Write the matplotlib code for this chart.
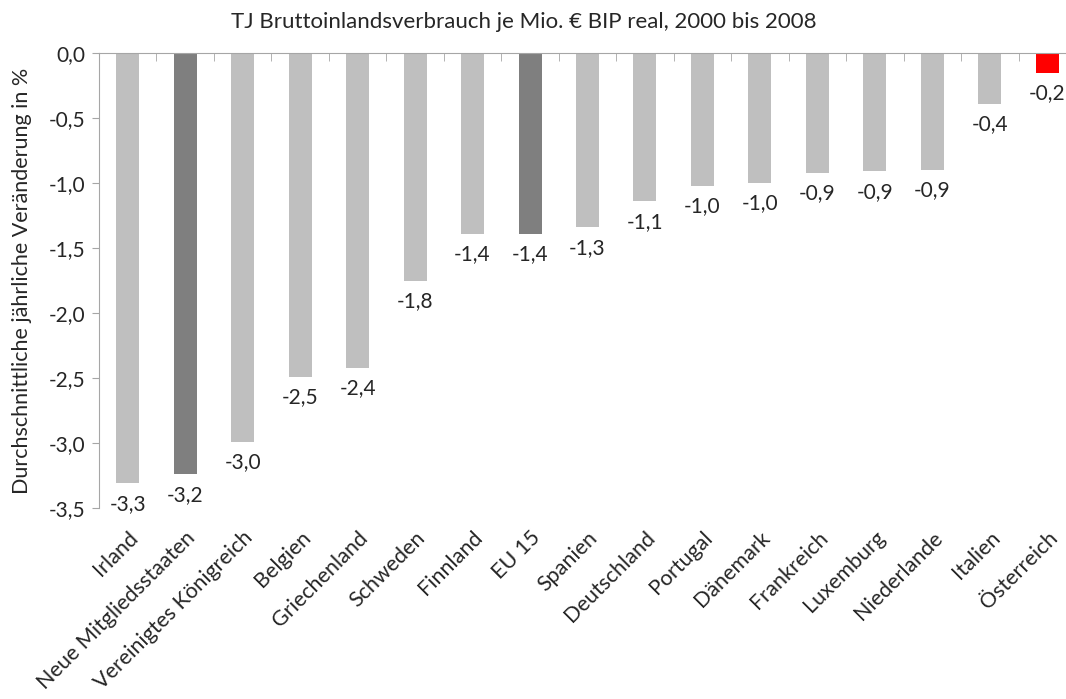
import matplotlib
matplotlib.use("Agg")
import matplotlib.pyplot as plt
from matplotlib.ticker import FixedLocator

plt.rcParams['font.family'] = ['Lato', 'DejaVu Sans']

# Daten
laender = ["Irland", "Neue Mitgliedsstaaten", "Vereinigtes Königreich", "Belgien",
           "Griechenland", "Schweden", "Finnland", "EU 15", "Spanien", "Deutschland",
           "Portugal", "Dänemark", "Frankreich", "Luxemburg", "Niederlande", "Italien",
           "Österreich"]
werte = [-3.31, -3.24, -2.99, -2.49, -2.42, -1.75, -1.39, -1.39, -1.34, -1.14,
         -1.02, -1.00, -0.92, -0.91, -0.90, -0.39, -0.15]
beschriftung = ["-3,3", "-3,2", "-3,0", "-2,5", "-2,4", "-1,8", "-1,4", "-1,4", "-1,3",
                "-1,1", "-1,0", "-1,0", "-0,9", "-0,9", "-0,9", "-0,4", "-0,2"]
farben_typ = ["land", "gruppe", "land", "land", "land", "land", "land", "gruppe", "land",
              "land", "land", "land", "land", "land", "land", "land", "at"]
farbe = {"land": "#BFBFBF", "gruppe": "#7F7F7F", "at": "#FF0000"}

TEXT = "#262626"
ACHSE = "#A6A6A6"

fig = plt.figure(figsize=(10.66, 6.99), dpi=100)
ax = fig.add_axes([99 / 1066, (699 - 508) / 699, 977 / 1066, 455 / 699])

x = range(len(laender))
ax.bar(x, werte, width=0.4, color=[farbe[t] for t in farben_typ], zorder=2)

for xi, w, lab in zip(x, werte, beschriftung):
    ax.text(xi, w - 0.08, lab, ha="center", va="top", fontsize=15, color=TEXT)

ax.set_xlim(-0.5, len(laender) - 0.5)
ax.set_ylim(-3.5, 0)
ax.set_yticks([0, -0.5, -1.0, -1.5, -2.0, -2.5, -3.0, -3.5])
ax.set_yticklabels([f"{v:.1f}".replace(".", ",") for v in ax.get_yticks()],
                   fontsize=15, color=TEXT)

# Kategorienachse oben bei 0
ax.spines["bottom"].set_visible(False)
ax.spines["right"].set_visible(False)
ax.spines["top"].set_color(ACHSE)
ax.spines["left"].set_color(ACHSE)
ax.tick_params(axis="y", color=ACHSE, length=5, pad=5)

ax.set_xticks(list(x))
ax.set_xticklabels(laender, rotation=45, ha="right", rotation_mode="anchor",
                   fontsize=15.5, color=TEXT)
ax.tick_params(axis="x", length=0, pad=14)
ax.xaxis.set_minor_locator(FixedLocator([i + 0.5 for i in range(len(laender) - 1)]))
ax.tick_params(axis="x", which="minor", top=True, bottom=False, direction="in",
               length=6, color=ACHSE)

ax.set_ylabel("Durchschnittliche jährliche Veränderung in %", fontsize=15.5,
              color=TEXT, labelpad=12)
fig.text(0.4916, 0.9685, "TJ Bruttoinlandsverbrauch je Mio. € BIP real, 2000 bis 2008",
         ha="center", va="center", fontsize=16, color=TEXT)

fig.savefig("out.png", dpi=100)
